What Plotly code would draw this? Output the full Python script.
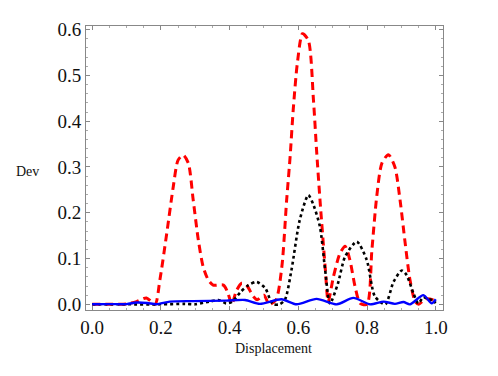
import plotly.graph_objects as go

# red dashed curve
red_x = [0.0, 0.05, 0.10, 0.129, 0.158, 0.183, 0.197, 0.217, 0.236, 0.25, 0.265,
         0.28, 0.294, 0.309, 0.323, 0.338, 0.352, 0.382, 0.395, 0.406, 0.42, 0.435,
         0.449, 0.469, 0.48, 0.50, 0.515, 0.535, 0.552, 0.566, 0.576, 0.585, 0.597,
         0.612, 0.629, 0.644, 0.653, 0.663, 0.678, 0.687, 0.702, 0.721, 0.736, 0.75,
         0.765, 0.78, 0.80, 0.814, 0.828, 0.843, 0.862, 0.881, 0.896, 0.911, 0.925,
         0.94, 0.95, 0.97, 0.99, 1.0]
red_y = [0.0, 0.0, 0.001, 0.006, 0.014, 0.0, 0.053, 0.155, 0.257, 0.315, 0.326,
         0.308, 0.228, 0.14, 0.082, 0.053, 0.042, 0.042, 0.025, 0.0, 0.03, 0.046,
         0.042, 0.017, 0.01, 0.02, 0.0, 0.01, 0.082, 0.228, 0.322, 0.424, 0.526,
         0.591, 0.577, 0.446, 0.337, 0.228, 0.082, 0.006, 0.06, 0.111, 0.127, 0.097,
         0.039, 0.002, 0.0, 0.118, 0.235, 0.308, 0.327, 0.30, 0.228, 0.133, 0.053,
         0.006, 0.0, 0.012, 0.01, 0.004]

# black dotted curve
black_x = [0.0, 0.1, 0.2, 0.27, 0.30, 0.34, 0.37, 0.39, 0.408, 0.432, 0.455, 0.479,
           0.504, 0.518, 0.527, 0.545, 0.561, 0.58, 0.604, 0.629, 0.645, 0.663, 0.678,
           0.692, 0.715, 0.736, 0.77, 0.799, 0.823, 0.853, 0.877, 0.901, 0.915, 0.935,
           0.949, 0.964, 0.973, 0.99, 1.0]
black_y = [0.0, 0.0, 0.0, 0.001, 0.0, 0.006, 0.009, 0.002, 0.006, 0.027, 0.042, 0.049,
           0.035, 0.01, 0.0, 0.0, 0.01, 0.075, 0.184, 0.2385, 0.215, 0.169, 0.075,
           0.002, 0.045, 0.104, 0.137, 0.097, 0.017, 0.0, 0.049, 0.074, 0.064, 0.024,
           0.002, 0.016, 0.013, 0.009, 0.003]

# blue solid curve
blue_x = [0.0, 0.05, 0.10, 0.129, 0.16, 0.187, 0.226, 0.294, 0.391, 0.445, 0.488,
          0.551, 0.595, 0.653, 0.712, 0.76, 0.809, 0.848, 0.881, 0.906, 0.925, 0.964,
          0.988, 1.0]
blue_y = [0.0, 0.0005, 0.0005, 0.004, 0.003, 0.0, 0.006, 0.007, 0.008, 0.0095, 0.001,
          0.011, 0.0, 0.012, 0.0, 0.014, 0.0, 0.006, 0.001, 0.005, 0.0, 0.02,
          0.002, 0.011]

FONT = "Liberation Serif"

fig = go.Figure()
fig.add_trace(go.Scatter(x=red_x, y=red_y, mode="lines",
                         line=dict(color="#FF0000", width=3, dash="8px,5px",
                                   shape="spline", smoothing=0.7)))
fig.add_trace(go.Scatter(x=black_x, y=black_y, mode="lines",
                         line=dict(color="#000000", width=2.6, dash="dot",
                                   shape="spline", smoothing=0.7)))
fig.add_trace(go.Scatter(x=blue_x, y=blue_y, mode="lines",
                         line=dict(color="#0000FF", width=2.4,
                                   shape="spline", smoothing=0.7)))

axis_common = dict(
    showgrid=False, zeroline=False, showline=True, linecolor="#888888",
    linewidth=1, mirror="ticks", ticks="inside", ticklen=4, tickcolor="#888888",
    tickfont=dict(family=FONT, size=19, color="#111111"), tickformat=".1f",
)
fig.update_xaxes(range=[-0.018, 1.021], dtick=0.2, tick0=0,
                 minor=dict(dtick=0.05, ticks="inside", ticklen=2, tickcolor="#aaaaaa"),
                 **axis_common)
fig.update_yaxes(range=[-0.0124, 0.608], dtick=0.1, tick0=0,
                 minor=dict(dtick=0.02, ticks="inside", ticklen=2, tickcolor="#aaaaaa"),
                 **axis_common)

fig.add_annotation(text="Dev", xref="paper", yref="paper", x=-0.165, y=0.486,
                   showarrow=False, xanchor="center", yanchor="middle",
                   font=dict(family=FONT, size=14, color="#111111"))
fig.add_annotation(text="Displacement", xref="paper", yref="paper", x=0.524, y=-0.137,
                   showarrow=False, xanchor="center", yanchor="middle",
                   font=dict(family=FONT, size=14, color="#111111"))

# the page body adds an 8px offset, so the margins are shifted to compensate
fig.update_layout(
    width=498, height=376, showlegend=False,
    margin=dict(l=78, r=63, t=18, b=74),
    paper_bgcolor="white", plot_bgcolor="white",
    font=dict(family=FONT),
)

fig.write_html("out.html")
